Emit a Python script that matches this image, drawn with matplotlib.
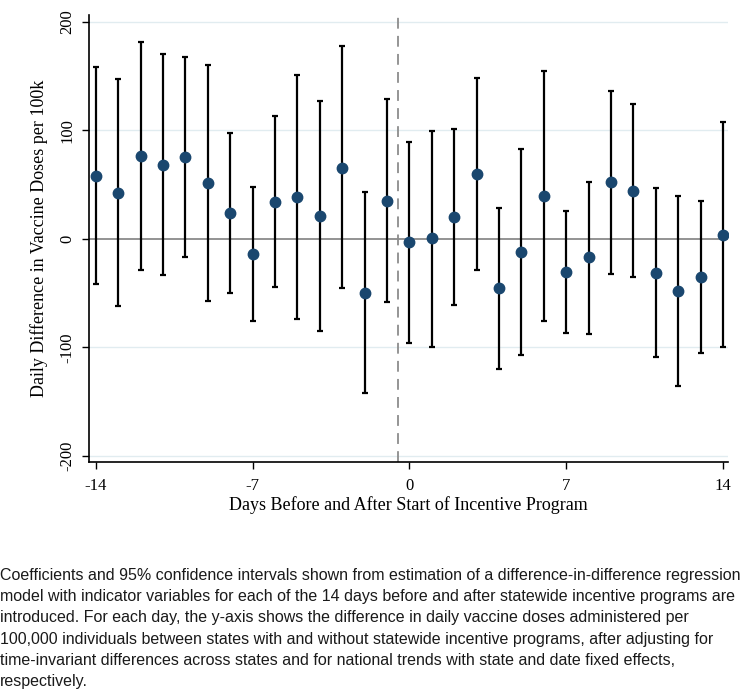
import matplotlib
matplotlib.use("Agg")
import matplotlib.pyplot as plt
import numpy as np

# days relative to program start
days = list(range(-14, 15))
coef = [57.8, 42.4, 76.2, 67.6, 75.0, 51.3, 23.7, -14.4, 34.1, 38.1, 20.6, 65.4, -50.1, 34.4,
        -3.4, 0.3, 19.7, 59.6, -45.8, -12.0, 39.3, -31.0, -17.2, 52.2, 44.2, -31.3, -48.2, -35.0, 3.7]
upper = [158.5, 147.5, 181.3, 170.5, 167.4, 159.8, 97.4, 47.6, 113.1, 150.5, 126.9, 177.9, 43.0, 128.4,
         89.4, 99.2, 101.1, 148.4, 28.0, 82.6, 154.5, 25.5, 52.2, 136.4, 123.8, 47.0, 39.3, 35.0, 107.2]
lower = [-42.1, -62.1, -29.2, -33.5, -16.9, -57.4, -49.8, -75.9, -44.5, -74.0, -85.4, -45.5, -142.5, -58.7,
         -95.9, -99.5, -61.1, -29.2, -120.1, -106.9, -75.9, -87.3, -87.9, -32.6, -35.3, -108.8, -135.8, -105.1, -99.5]
yticks = [-200, -100, 0, 100, 200]
xticks = [-14, -7, 0, 7, 14]

caption = ("Coefficients and 95% confidence intervals shown from estimation of a difference-in-difference regression\n"
           "model with indicator variables for each of the 14 days before and after statewide incentive programs are\n"
           "introduced. For each day, the y-axis shows the difference in daily vaccine doses administered per\n"
           "100,000 individuals between states with and without statewide incentive programs, after adjusting for\n"
           "time-invariant differences across states and for national trends with state and date fixed effects,\n"
           "respectively.")

serif = ["Liberation Serif", "DejaVu Serif"]

fig = plt.figure(figsize=(7.5, 6.91), dpi=100)
ax = fig.add_axes([0.119, 0.331, 0.852, 0.647])

for y in yticks:
    if y != 0:
        ax.axhline(y, color="#e1ecf0", lw=1.0, zorder=0)
ax.axhline(0, color="#808080", lw=1.2, zorder=1)
ax.axvline(-0.5, color="#8c8c8c", lw=1.3, ls=(0, (6, 4)), zorder=1)

c = np.array(coef)
err = [c - np.array(lower), np.array(upper) - c]
ax.errorbar(days, coef, yerr=err, fmt="o", color="#1a476f", ms=7.5,
            ecolor="black", elinewidth=1.6, capsize=2.5, capthick=1.6, zorder=3)

ax.set_xlim(-14.29, 14.23)
ax.set_ylim(-206, 206)
ax.set_xticks(xticks)
ax.set_xticklabels([str(x) for x in xticks], fontfamily=serif, fontsize=12)
ax.set_yticks(yticks)
ax.set_yticklabels([str(y) for y in yticks], fontfamily=serif, fontsize=12,
                   rotation=90, va="center")
ax.tick_params(length=5, width=1, direction="out")
ax.tick_params(axis="x", pad=6)
ax.tick_params(axis="y", pad=5)
for s in ["top", "right"]:
    ax.spines[s].set_visible(False)
ax.spines["left"].set_linewidth(1.2)
ax.spines["bottom"].set_linewidth(1.2)

ax.set_xlabel("Days Before and After Start of Incentive Program", fontfamily=serif, fontsize=13, labelpad=2)
ax.set_ylabel("Daily Difference in Vaccine Doses per 100k", fontfamily=serif, fontsize=13, labelpad=8)

fig.text(0.0, 0.178, caption, fontfamily=["Liberation Sans", "DejaVu Sans"], fontsize=11.5,
         va="top", ha="left", linespacing=1.52, color="#1a1a1a")

fig.savefig("out.png", dpi=100)
